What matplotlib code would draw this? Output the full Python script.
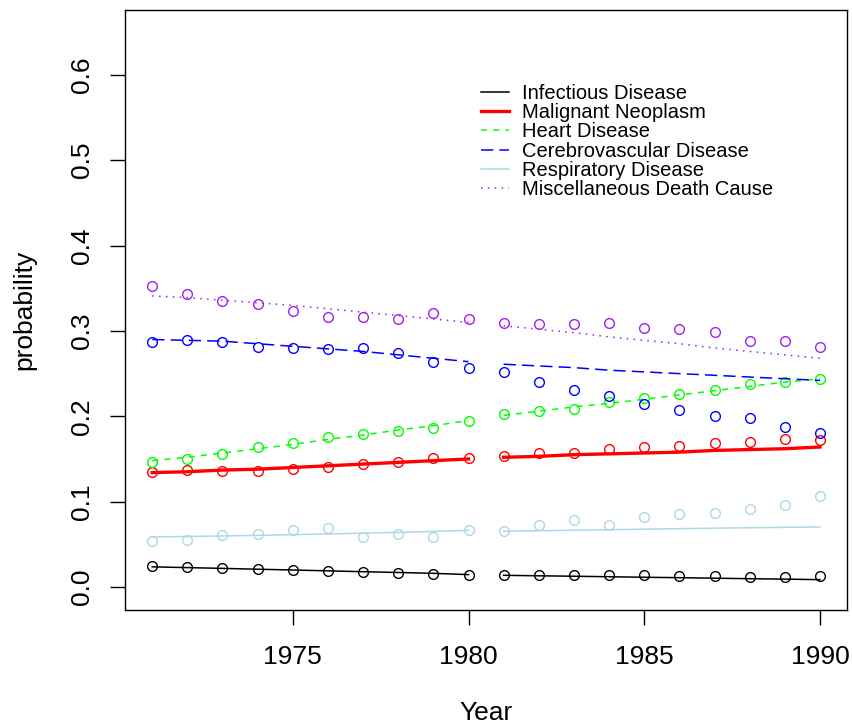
import numpy as np
import matplotlib
matplotlib.use("Agg")
import matplotlib.pyplot as plt

plt.rcParams['font.family'] = ['Liberation Sans', 'DejaVu Sans']

# two observation periods, fitted separately
years_a = np.arange(1971, 1981)
years_b = np.arange(1981, 1991)

causes = ["Infectious Disease", "Malignant Neoplasm", "Heart Disease",
          "Cerebrovascular Disease", "Respiratory Disease",
          "Miscellaneous Death Cause"]

# observed death-cause probabilities
obs_infect = [0.0243, 0.0234, 0.0223, 0.0211, 0.0203, 0.0188, 0.0172, 0.0168, 0.0156, 0.0141,
              0.0137, 0.0137, 0.0144, 0.0137, 0.0137, 0.0129, 0.0132, 0.0121, 0.0121, 0.0129]
obs_neo = [0.1345, 0.1372, 0.1363, 0.1363, 0.1380, 0.1403, 0.1442, 0.1469, 0.1516, 0.1512,
           0.1539, 0.1571, 0.1571, 0.1614, 0.1638, 0.1649, 0.1692, 0.1696, 0.1735, 0.1720]
obs_heart = [0.1462, 0.1501, 0.1563, 0.1645, 0.1685, 0.1755, 0.1790, 0.1832, 0.1868, 0.1950,
             0.2032, 0.2067, 0.2090, 0.2165, 0.2212, 0.2259, 0.2306, 0.2380, 0.2403, 0.2442]
obs_cereb = [0.2869, 0.2892, 0.2876, 0.2817, 0.2805, 0.2790, 0.2805, 0.2740, 0.2641, 0.2567,
             0.2517, 0.2407, 0.2313, 0.2243, 0.2145, 0.2071, 0.2001, 0.1978, 0.1879, 0.1805]
obs_resp = [0.0539, 0.0547, 0.0613, 0.0621, 0.0672, 0.0688, 0.0590, 0.0625, 0.0586, 0.0665,
            0.0660, 0.0723, 0.0782, 0.0723, 0.0821, 0.0856, 0.0868, 0.0918, 0.0961, 0.1063]
obs_misc = [0.3521, 0.3435, 0.3345, 0.3321, 0.3239, 0.3169, 0.3169, 0.3138, 0.3212, 0.3142,
            0.3091, 0.3083, 0.3087, 0.3095, 0.3033, 0.3021, 0.2986, 0.2887, 0.2880, 0.2814]

# fitted probabilities
fit_infect = [0.0236, 0.0227, 0.0218, 0.0208, 0.0199, 0.0189, 0.0179, 0.0170, 0.0160, 0.0145,
              0.0137, 0.0131, 0.0126, 0.0120, 0.0114, 0.0109, 0.0103, 0.0097, 0.0092, 0.0086]
fit_neo = [0.134, 0.135, 0.137, 0.138, 0.140, 0.142, 0.144, 0.146, 0.148, 0.150,
           0.152, 0.153, 0.155, 0.156, 0.157, 0.158, 0.160, 0.161, 0.162, 0.164]
fit_heart = [0.148, 0.152, 0.157, 0.162, 0.167, 0.173, 0.178, 0.184, 0.189, 0.195,
             0.201, 0.206, 0.211, 0.215, 0.220, 0.225, 0.230, 0.235, 0.240, 0.244]
fit_cereb = [0.290, 0.289, 0.288, 0.285, 0.282, 0.279, 0.276, 0.272, 0.268, 0.264,
             0.261, 0.259, 0.257, 0.254, 0.252, 0.250, 0.248, 0.246, 0.244, 0.242]
fit_resp = [0.0586, 0.0592, 0.0598, 0.0605, 0.0613, 0.0621, 0.0630, 0.0640, 0.0651, 0.0664,
            0.0653, 0.0659, 0.0665, 0.0671, 0.0677, 0.0683, 0.0689, 0.0694, 0.0699, 0.0703]
fit_misc = [0.341, 0.339, 0.336, 0.333, 0.330, 0.326, 0.322, 0.318, 0.314, 0.310,
            0.306, 0.302, 0.298, 0.293, 0.289, 0.285, 0.280, 0.276, 0.272, 0.268]

observed = [obs_infect, obs_neo, obs_heart, obs_cereb, obs_resp, obs_misc]
fitted = [fit_infect, fit_neo, fit_heart, fit_cereb, fit_resp, fit_misc]

colors = ["black", "red", "#00FF00", "blue", "lightblue", "#A020F0"]
widths = [1.1, 2.4, 1.1, 1.1, 1.1, 1.1]
dashes = [None, None, (0, (4, 4)), (0, (8, 4)), None, (0, (1, 3.5))]

fig = plt.figure(figsize=(8.53, 7.27), dpi=100)
ax = fig.add_axes([0.1471, 0.1609, 0.8455, 0.8253])

n = len(years_a)
handles = []
for obs, fit, col, lw, ls, name in zip(observed, fitted, colors, widths, dashes, causes):
    style = ls if ls is not None else "-"
    h, = ax.plot(years_a, fit[:n], color=col, lw=lw, linestyle=style, label=name)
    ax.plot(years_b, fit[n:], color=col, lw=lw, linestyle=style)
    ax.plot(np.concatenate([years_a, years_b]), obs, linestyle="none", marker="o",
            markersize=7, markerfacecolor="none", markeredgecolor=col,
            markeredgewidth=1.0)
    handles.append(h)

ax.set_xlim(1970.24, 1990.76)
ax.set_ylim(-0.027, 0.676)
ax.set_xticks([1975, 1980, 1985, 1990])
ax.set_yticks(np.arange(0, 0.61, 0.1))
ax.set_yticklabels([f"{v:.1f}" for v in np.arange(0, 0.61, 0.1)],
                   rotation=90, va="center")
ax.tick_params(axis="both", labelsize=19, length=11, width=1.0, direction="out")
ax.tick_params(axis="x", pad=14)
ax.tick_params(axis="y", pad=12)
for sp in ax.spines.values():
    sp.set_linewidth(1.0)

ax.set_xlabel("Year", fontsize=19, labelpad=23)
ax.set_ylabel("probability", fontsize=19, labelpad=24)

ax.legend(handles=handles, loc="upper left", bbox_to_anchor=(481 / 853, 1 - 84 / 727),
          bbox_transform=fig.transFigure, frameon=False, fontsize=14.5,
          handlelength=1.37, handletextpad=0.69, labelspacing=0.01,
          borderpad=0, borderaxespad=0)

fig.savefig("out.png", dpi=100)
